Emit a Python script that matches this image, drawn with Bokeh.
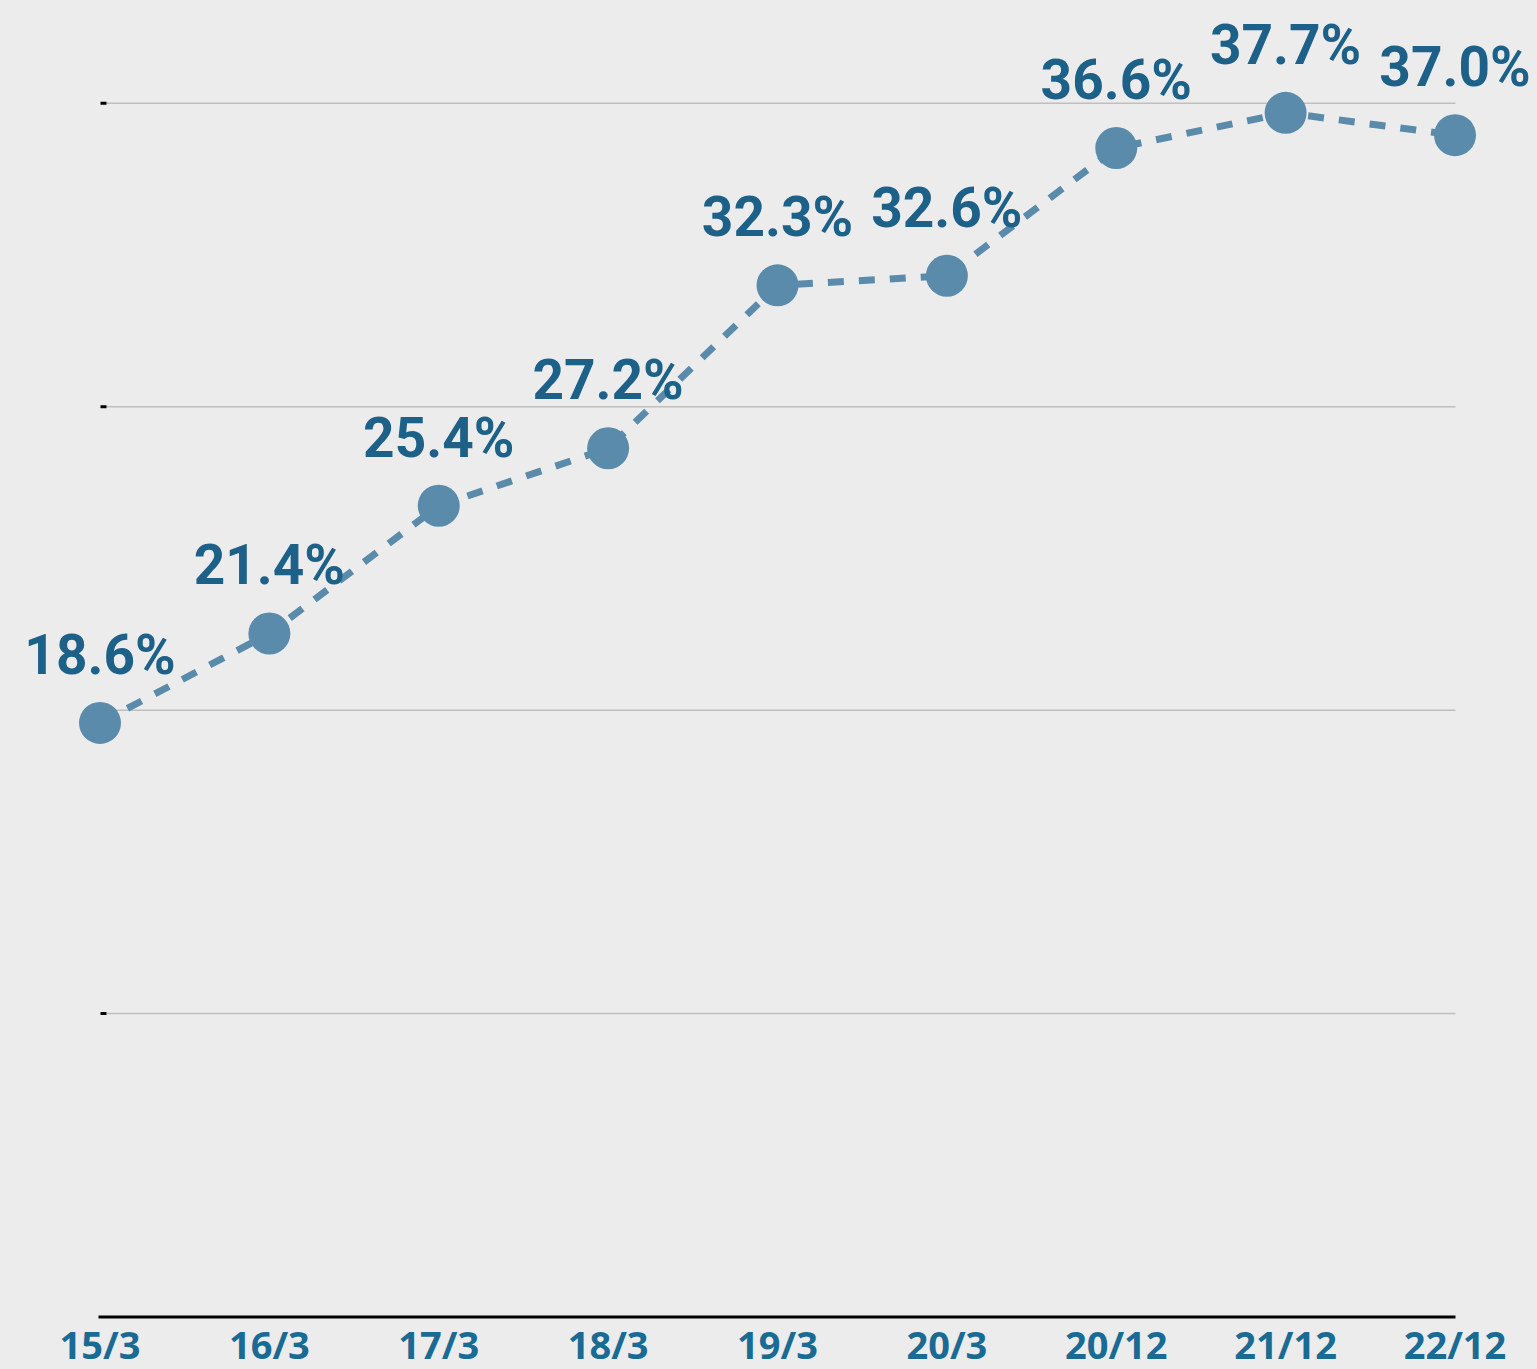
from bokeh.plotting import figure
from bokeh.models import FixedTicker, Range1d, ColumnDataSource
from bokeh.core.properties import value
from bokeh.embed import file_html
from bokeh.resources import INLINE

# ---- data ----
categories = ["15/3", "16/3", "17/3", "18/3", "19/3", "20/3", "20/12", "21/12", "22/12"]
values = [18.6, 21.4, 25.4, 27.2, 32.3, 32.6, 36.6, 37.7, 37.0]
labels = ["18.6%", "21.4%", "25.4%", "27.2%", "32.3%", "32.6%", "36.6%", "37.7%", "37.0%"]
grid_values = [9.5, 19.0, 28.5, 38.0]

# ---- layout ----
FW, FH = 1537, 1319   # frame size (frame bottom at the axis line)
XPX = 169.375   # px per category step
YPX = 31.94     # px per percent point
X0PX = 99.5     # px of first category
Y0PX = 2.5      # px of zero above frame bottom

BG = "#ececec"
LABEL_C = "#1d6189"
TICK_C = "#1a6b94"
MARK_C = "#5b8bab"

xs = list(range(len(categories)))

p = figure(frame_width=FW, frame_height=FH, output_backend="svg", toolbar_location=None,
           x_range=Range1d(-X0PX / XPX, (FW - X0PX) / XPX),
           y_range=Range1d(-Y0PX / YPX, (FH - Y0PX) / YPX),
           min_border_left=0, min_border_right=0, min_border_top=0,
           min_border_bottom=0)
p.background_fill_color = BG
p.border_fill_color = BG
p.outline_line_color = None
p.xgrid.visible = False
p.ygrid.visible = False
p.yaxis.visible = False

ax = p.xaxis[0]
ax.ticker = FixedTicker(ticks=xs)
ax.major_label_overrides = {i: c for i, c in zip(xs, categories)}
ax.axis_line_color = None
ax.major_tick_line_color = None
ax.minor_tick_line_color = None
ax.major_tick_out = 0
ax.major_tick_in = 0
ax.major_label_standoff = -2
ax.major_label_text_font = "Open Sans"
ax.major_label_text_font_style = "bold"
ax.major_label_text_font_size = "38px"
ax.major_label_text_color = TICK_C

# grid lines
g_x0 = 6.5 / XPX
g_x1 = xs[-1] + 0.5 / XPX
p.segment(x0=[g_x0] * len(grid_values), x1=[g_x1] * len(grid_values),
          y0=grid_values, y1=grid_values, line_color="#bfbfbf", line_width=1.5)
# small left tick marks
p.rect(x=[3.5 / XPX] * len(grid_values), y=grid_values, width=6, height=3,
       width_units="screen", height_units="screen", fill_color="black", line_color=None)
# baseline
p.segment(x0=[-1.5 / XPX], x1=[g_x1], y0=[0], y1=[0], line_color="black", line_width=3)

src = ColumnDataSource(dict(x=xs, y=values, lab=labels))
p.line("x", "y", source=src, line_color=MARK_C, line_width=7, line_dash="16 15")
p.scatter("x", "y", source=src, size=42, fill_color=MARK_C, line_color=None)
p.text("x", "y", text="lab", source=src, y_offset=-68, text_align="center",
       text_baseline="alphabetic", text_color=LABEL_C,
       text_font=value("Roboto"),
       text_font_style="bold", text_font_size="55px")

html = file_html(p, INLINE)
html = html.replace("<head>", "<head><style>html,body{background:#ececec;margin:0;padding:0;overflow:hidden;}</style>", 1)
open("out.html", "w").write(html)
